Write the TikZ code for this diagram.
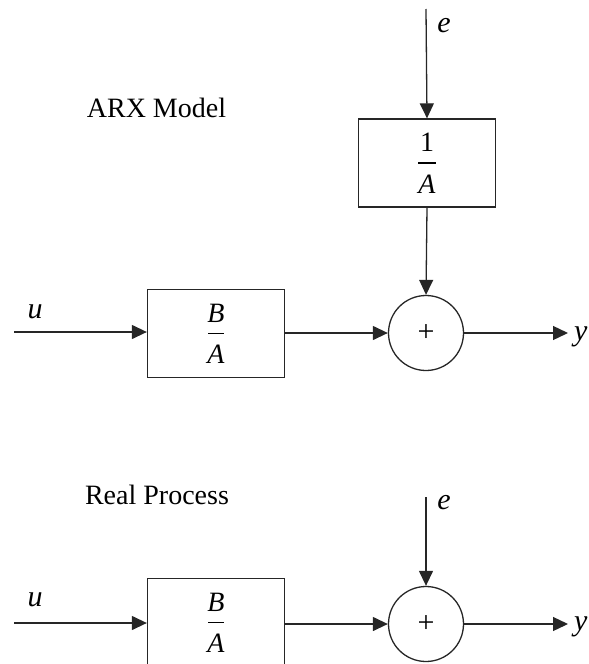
\documentclass[tikz,border=0pt]{standalone}
\usepackage{fontspec}
\setmainfont{Liberation Serif}
\usetikzlibrary{arrows.meta,calc}
\begin{document}
\begin{tikzpicture}[x=1pt,y=-1pt,
  wire/.style={line width=1.3pt,draw=black!85},
  sig/.style={wire,-{Triangle[length=15pt,width=14pt]}},
  blockbox/.style={draw=black!85,line width=1.3pt,minimum width=137pt,minimum height=88pt,inner sep=0pt},
  sumnode/.style={circle,draw=black!85,line width=1.3pt,minimum size=75pt,inner sep=0pt,font=\fontsize{30}{30}\selectfont},
  fracpart/.style={font=\fontsize{28}{28}\selectfont\itshape,inner sep=0pt},
  siglabel/.style={font=\fontsize{30}{30}\selectfont\itshape,inner sep=0pt},
  title/.style={font=\fontsize{28}{28}\selectfont,inner sep=0pt,anchor=base}]
\useasboundingbox (0,0) rectangle (589,664);
\clip (0,0) rectangle (589,664);

% ---------- ARX model ----------
\node[title] (arxtitle) at (156.5,117) {ARX Model};

\coordinate (eA) at (426,9);
\node[blockbox] (invA) at (427,163) {};
\node[fracpart] (invAnum) at ($(invA.center)+(0,-21)$) {\upshape 1};
\node[fracpart] (invAden) at ($(invA.center)+(0,21)$) {A};
\draw[line width=1.1pt] ($(invA.center)+(-9,0)$) -- ($(invA.center)+(9,0)$);

\coordinate (uA) at (14,332);
\node[blockbox] (baA) at (216,333.5) {};
\node[fracpart] (baAnum) at ($(baA.center)+(0,-20)$) {B};
\node[fracpart] (baAden) at ($(baA.center)+(0,21)$) {A};
\draw[line width=1.1pt] ($(baA.center)+(-8,0)$) -- ($(baA.center)+(8,0)$);

\node[sumnode] (sumA) at (426,333) {+};
\coordinate (yA) at (568,333);

\draw[sig] (eA) -- (invA.north);
\draw[sig] (invA.south) -- (sumA.north);
\draw[sig] (uA) -- (uA -| baA.west);
\draw[sig] (baA.east |- sumA.west) -- (sumA.west);
\draw[sig] (sumA.east) -- (yA);

\node[siglabel,anchor=base] (eAlab) at (444,32) {e};
\node[siglabel,anchor=base] (uAlab) at (35,318) {u};
\node[siglabel,anchor=base west] (yAlab) at (574,340) {y};

% ---------- Real process ----------
\node[title] (realtitle) at (157,504) {Real Process};

\coordinate (eB) at (426,497);
\coordinate (uB) at (14,623);
\node[blockbox,anchor=north] (baB) at (216,578) {};
\node[fracpart] (baBnum) at ($(baB.center)+(0,-20)$) {B};
\node[fracpart] (baBden) at ($(baB.center)+(0,21)$) {A};
\draw[line width=1.1pt] ($(baB.center)+(-8,0)$) -- ($(baB.center)+(8,0)$);

\node[sumnode] (sumB) at (426,624) {+};
\coordinate (yB) at (568,624);

\draw[sig] (eB) -- (sumB.north);
\draw[sig] (uB) -- (uB -| baB.west);
\draw[sig] (baB.east |- sumB.west) -- (sumB.west);
\draw[sig] (sumB.east) -- (yB);

\node[siglabel,anchor=base] (eBlab) at (444,509) {e};
\node[siglabel,anchor=base] (uBlab) at (35,606) {u};
\node[siglabel,anchor=base west] (yBlab) at (574,630) {y};
\end{tikzpicture}
\end{document}
